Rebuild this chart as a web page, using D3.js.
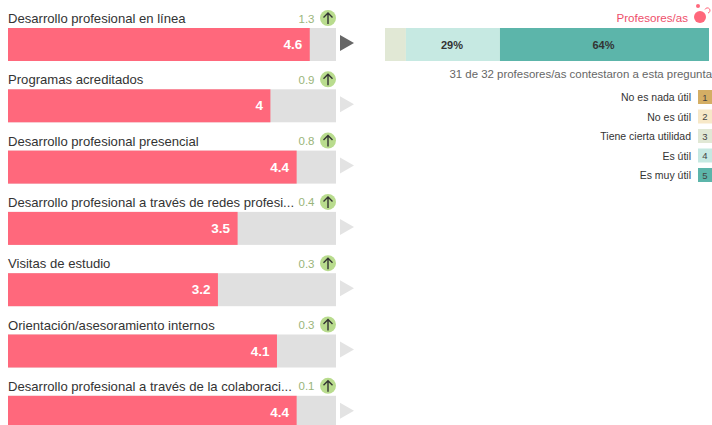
<!DOCTYPE html>
<html><head><meta charset="utf-8">
<style>html,body{margin:0;padding:0;background:#fff}svg{display:block}text{font-family:"Liberation Sans",Arial,sans-serif}</style>
<script src="https://cdn.jsdelivr.net/npm/d3@7"></script></head>
<body><svg id="c" width="712" height="425"></svg>
<script>
const categories=["Desarrollo profesional en línea","Programas acreditados","Desarrollo profesional presencial","Desarrollo profesional a través de redes profesi...","Visitas de estudio","Orientación/asesoramiento internos","Desarrollo profesional a través de la colaboraci..."];
const scores=[4.6,4,4.4,3.5,3.2,4.1,4.4];
const scoreLabels=["4.6","4","4.4","3.5","3.2","4.1","4.4"];
const diffs=["1.3","0.9","0.8","0.4","0.3","0.3","0.1"];
const legendLabels=["No es nada útil","No es útil","Tiene cierta utilidad","Es útil","Es muy útil"];
const legendCodes=["1","2","3","4","5"];
const legendColors=["#d4ae64","#f7e8c8","#e1e8d5","#c6e9e2","#5cb5aa"];
const stackCounts=[2,9,20];
const stackLabels=["","29%","64%"];
const stackColors=["#e1e8d5","#c6e9e2","#5cb5aa"];

const svg=d3.select("#c");
const step=61.3, barH=33;
const x=d3.scaleLinear().domain([0,5]).range([8,336]);
const rows=svg.selectAll("g.row").data(categories).join("g").attr("class","row");
const top_=i=>28+i*step;
rows.append("rect").attr("x",x(0)).attr("y",(d,i)=>top_(i)).attr("width",x(5)-x(0)).attr("height",barH).attr("fill","#e0e0e0");
rows.append("rect").attr("x",x(0)).attr("y",(d,i)=>top_(i)).attr("width",(d,i)=>x(scores[i])-x(0)).attr("height",barH).attr("fill","#ff687c");
rows.append("text").attr("x",(d,i)=>x(scores[i])-7.5).attr("y",(d,i)=>top_(i)+21).attr("text-anchor","end").attr("fill","#fff").attr("font-size",13.5).attr("font-weight","bold").text((d,i)=>scoreLabels[i]);
rows.append("text").attr("x",8).attr("y",(d,i)=>top_(i)-5).attr("fill","#333").attr("font-size",13.1).text(d=>d);
rows.append("text").attr("x",314.5).attr("y",(d,i)=>top_(i)-5.5).attr("text-anchor","end").attr("fill","#9ab57a").attr("font-size",11.5).text((d,i)=>diffs[i]);
rows.append("circle").attr("cx",328).attr("cy",(d,i)=>top_(i)-10).attr("r",8).attr("fill","#b9dc8e");
rows.append("path").attr("d",(d,i)=>{const c=top_(i)-10;return `M328 ${c+6}V${c-5}M323.5 ${c-.5}L328 ${c-5}L332.5 ${c-.5}`}).attr("fill","none").attr("stroke","#333").attr("stroke-width",1.4);
rows.append("path").attr("d",(d,i)=>{const t=top_(i)+7;return `M340 ${t}L354 ${t+8}L340 ${t+16}Z`}).attr("fill",(d,i)=>i===0?"#666":"#e3e3e3");

const total=d3.sum(stackCounts);
const sx=d3.scaleLinear().domain([0,total]).range([385,709]);
let cum=0;
const starts=stackCounts.map(v=>{const s=cum;cum+=v;return s});
svg.selectAll("rect.seg").data(stackCounts).join("rect").attr("class","seg").attr("x",(d,i)=>sx(starts[i])).attr("y",28).attr("width",d=>sx(d)-sx(0)).attr("height",barH).attr("fill",(d,i)=>stackColors[i]);
svg.selectAll("text.seg").data(stackCounts).join("text").attr("class","seg").attr("x",(d,i)=>sx(starts[i]+d/2)-1).attr("y",49).attr("text-anchor","middle").attr("fill","#333").attr("font-size",11).attr("font-weight","bold").text((d,i)=>stackLabels[i]);

svg.append("text").attr("x",688).attr("y",22).attr("text-anchor","end").attr("fill","#ee4f6b").attr("font-size",11.6).text("Profesores/as");
svg.append("circle").attr("cx",700).attr("cy",17).attr("r",6).attr("fill","#ff687c");
svg.append("circle").attr("cx",698).attr("cy",6).attr("r",2).attr("fill","#ff687c");
svg.append("path").attr("d","M705 9.5A2.6 2.6 0 1 1 708 13").attr("fill","none").attr("stroke","#ff687c").attr("stroke-width",1);
svg.append("text").attr("x",712).attr("y",78).attr("text-anchor","end").attr("fill","#666").attr("font-size",11.45).text("31 de 32 profesores/as contestaron a esta pregunta");

const ly=d3.scalePoint().domain(legendCodes).range([97,175]);
const lg=svg.selectAll("g.lg").data(legendCodes).join("g").attr("class","lg");
lg.append("text").attr("x",691).attr("y",d=>ly(d)+4).attr("text-anchor","end").attr("fill","#333").attr("font-size",10.5).text((d,i)=>legendLabels[i]);
lg.append("rect").attr("x",698).attr("y",d=>ly(d)-7).attr("width",14).attr("height",14).attr("fill",(d,i)=>legendColors[i]);
lg.append("text").attr("x",705).attr("y",d=>ly(d)+3.5).attr("text-anchor","middle").attr("fill","#444").attr("font-size",9.5).text(d=>d);
</script></body></html>
